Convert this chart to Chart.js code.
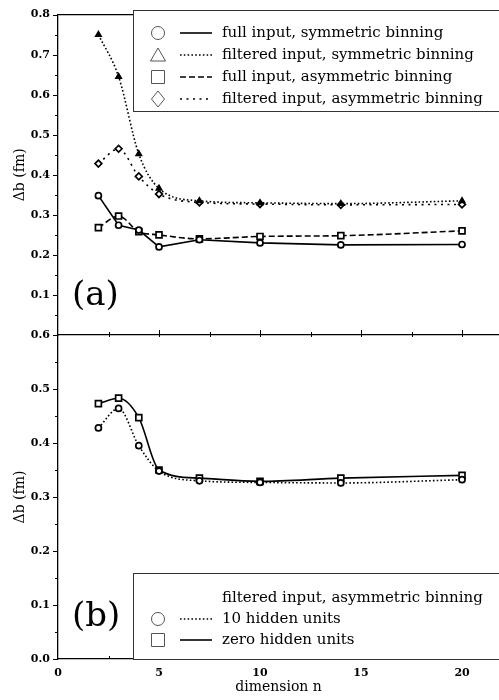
<!DOCTYPE html>
<html>
<head>
<meta charset="utf-8">
<script src="https://cdn.jsdelivr.net/npm/chart.js@4/dist/chart.umd.min.js"></script>
<style>
  html, body { margin: 0; padding: 0; background: #fff; }
  #quadro { position: relative; width: 499px; height: 700px; overflow: hidden; }
  #quadro canvas { position: absolute; left: 0; top: 0; }
</style>
</head>
<body>
<div id="quadro">
  <canvas id="graficoB" width="499" height="700"></canvas>
  <canvas id="graficoA" width="499" height="700"></canvas>
</div>
<script>
// ============================
// DADOS
// ============================
const dimensoes = [2, 3, 4, 5, 7, 10, 14, 20];

// painel (a)
const fullSym  = [0.348, 0.274, 0.262, 0.220, 0.238, 0.230, 0.225, 0.226];
const filtSym  = [0.750, 0.645, 0.452, 0.366, 0.335, 0.330, 0.328, 0.335];
const fullAsym = [0.268, 0.297, 0.258, 0.250, 0.240, 0.246, 0.248, 0.260];
const filtAsym = [0.428, 0.465, 0.396, 0.352, 0.331, 0.327, 0.325, 0.326];

// painel (b)
const hidden10   = [0.428, 0.464, 0.395, 0.348, 0.330, 0.327, 0.326, 0.332];
const hiddenZero = [0.473, 0.483, 0.447, 0.350, 0.335, 0.329, 0.335, 0.340];

const rotulosA = [
  'full input, symmetric binning',
  'filtered input, symmetric binning',
  'full input, asymmetric binning',
  'filtered input, asymmetric binning'
];
const cabecalhoB = 'filtered input, asymmetric binning';
const rotulosB = ['10 hidden units', 'zero hidden units'];

const xTicks = [0, 5, 10, 15, 20];

const SERIF = '"DejaVu Serif", serif';
const X_MAX = 21.83;
const ESQ = 58;

// ============================
// SÉRIES
// ============================
function serie(label, ys, marcador, dash, suave, cheio, raio) {
  return {
    label,
    data: dimensoes.map((x, i) => ({ x, y: ys[i] })),
    borderColor: '#000',
    borderWidth: 1.6,
    borderDash: dash,
    cubicInterpolationMode: suave ? 'monotone' : 'default',
    tension: suave ? 0.4 : 0,
    pointStyle: marcador,
    pointRadius: raio,
    pointBorderWidth: 1.7,
    pointBorderColor: '#000',
    pointBackgroundColor: cheio ? '#000' : '#fff'
  };
}

// ============================
// ESCALAS
// ============================
function escalas(yMax, comX, ocultarZero) {
  const fonteTick = { family: SERIF, size: 11, weight: 'bold' };
  return {
    x: {
      type: 'linear',
      min: 0,
      max: X_MAX,
      afterBuildTicks: s => { s.ticks = xTicks.map(v => ({ value: v })); },
      afterFit: s => { s.height = comX ? 41 : 0; },
      grid: { display: false, drawTicks: false },
      border: { display: true, color: '#000', width: 1.3 },
      ticks: { display: comX, padding: 8, maxRotation: 0, color: '#000', font: fonteTick },
      title: {
        display: comX, text: 'dimension n', color: '#000',
        font: { family: SERIF, size: 14 }, padding: { top: 0, bottom: 4.6 }
      }
    },
    y: {
      min: 0,
      max: yMax,
      afterFit: s => { s.width = ESQ; },
      grid: { display: false, drawTicks: false },
      border: { display: true, color: '#000', width: 1.3 },
      ticks: {
        stepSize: 0.1, padding: 8, color: '#000', font: fonteTick,
        callback: v => (ocultarZero && v < 0.001) ? '' : v.toFixed(1)
      },
      title: {
        display: true, text: 'Δb (fm)', color: '#000',
        font: { family: SERIF, size: 14 }, padding: { top: 11.6, bottom: 0 }
      }
    }
  };
}

// ============================
// MARCAS DOS EIXOS + MOLDURA
// ============================
const marcasEixos = {
  id: 'marcasEixos',
  afterDraw(chart, args, opts) {
    const { ctx, chartArea: a, scales: { x, y } } = chart;
    ctx.save();
    ctx.strokeStyle = '#000';
    ctx.lineWidth = 1;
    const n = Math.round(y.max / 0.05);
    for (let k = 0; k <= n; k++) {
      const py = Math.round(y.getPixelForValue(k * 0.05)) + 0.5;
      const len = k % 2 === 0 ? 5 : 3;
      ctx.beginPath();
      ctx.moveTo(a.left - len, py);
      ctx.lineTo(a.left, py);
      ctx.stroke();
    }
    for (let k = 1; k * 2.5 < x.max; k++) {
      const px = Math.round(x.getPixelForValue(k * 2.5)) + 0.5;
      const len = k % 2 === 0 ? 5 : 3;
      ctx.beginPath();
      ctx.moveTo(px, a.bottom - len);
      ctx.lineTo(px, a.bottom + (opts.abaixo ? 2 : 0));
      ctx.stroke();
    }
    if (opts.topo) {
      ctx.lineWidth = 1.3;
      ctx.beginPath();
      ctx.moveTo(a.left, a.top);
      ctx.lineTo(a.right, a.top);
      ctx.stroke();
    }
    ctx.restore();
  }
};

// ============================
// LEGENDA PRÓPRIA
// ============================
function desenharSimbolo(ctx, forma, x, y) {
  ctx.beginPath();
  if (forma === 'circle') {
    ctx.arc(x, y, 6.5, 0, Math.PI * 2);
  } else if (forma === 'triangle') {
    ctx.moveTo(x, y - 7);
    ctx.lineTo(x + 7.5, y + 6);
    ctx.lineTo(x - 7.5, y + 6);
    ctx.closePath();
  } else if (forma === 'rect') {
    ctx.rect(x - 6.5, y - 6.5, 13, 13);
  } else {
    ctx.moveTo(x, y - 8);
    ctx.lineTo(x + 6.5, y);
    ctx.lineTo(x, y + 8);
    ctx.lineTo(x - 6.5, y);
    ctx.closePath();
  }
  ctx.stroke();
}

const legendaPropria = {
  id: 'legendaPropria',
  afterDraw(chart, args, opts) {
    const { ctx } = chart;
    const [bx, by, bw, bh] = opts.caixa;
    ctx.save();
    ctx.fillStyle = '#fff';
    ctx.fillRect(bx, by, bw, bh);
    ctx.strokeStyle = '#333';
    ctx.lineWidth = 1;
    ctx.strokeRect(bx + 0.5, by + 0.5, bw, bh);

    ctx.font = '15px ' + SERIF;
    ctx.fillStyle = '#000';
    ctx.textBaseline = 'middle';
    ctx.textAlign = 'left';
    let yLinha = opts.y0;
    if (opts.cabecalho) {
      ctx.fillText(opts.cabecalho, 222, yLinha);
      yLinha += opts.passo;
    }
    chart.data.datasets.forEach(ds => {
      ctx.strokeStyle = '#555';
      ctx.lineWidth = 1;
      ctx.setLineDash([]);
      desenharSimbolo(ctx, ds.pointStyle, 158, yLinha);
      ctx.strokeStyle = '#000';
      ctx.lineWidth = 1.6;
      ctx.setLineDash(ds.borderDash || []);
      ctx.beginPath();
      ctx.moveTo(180, yLinha);
      ctx.lineTo(212, yLinha);
      ctx.stroke();
      ctx.setLineDash([]);
      ctx.fillText(ds.label, 222, yLinha);
      yLinha += opts.passo;
    });

    ctx.font = '34px ' + SERIF;
    ctx.fillText(opts.painel, 72, opts.painelY);
    ctx.restore();
  }
};

// ============================
// GRÁFICO (a)
// ============================
const chartA = new Chart(document.getElementById('graficoA'), {
  type: 'line',
  data: {
    datasets: [
      serie(rotulosA[0], fullSym, 'circle', [], false, false, 3),
      serie(rotulosA[1], filtSym, 'triangle', [1.6, 2.2], true, true, 3),
      serie(rotulosA[2], fullAsym, 'rect', [6, 3], true, false, 4.2),
      serie(rotulosA[3], filtAsym, 'rectRot', [2, 4.5], true, false, 3.4)
    ]
  },
  options: {
    responsive: false,
    animation: false,
    layout: { autoPadding: false, padding: { top: 10, bottom: 365, left: 0, right: 0 } },
    scales: escalas(0.8, false, true),
    plugins: {
      legend: { display: false },
      tooltip: { enabled: false },
      marcasEixos: { topo: true, abaixo: true },
      legendaPropria: { caixa: [133, 10, 380, 101], y0: 33, passo: 22, painel: '(a)', painelY: 296 }
    }
  },
  plugins: [marcasEixos, legendaPropria]
});

// ============================
// GRÁFICO (b)
// ============================
const chartB = new Chart(document.getElementById('graficoB'), {
  type: 'line',
  data: {
    datasets: [
      serie(rotulosB[0], hidden10, 'circle', [1.6, 2.2], true, false, 3),
      serie(rotulosB[1], hiddenZero, 'rect', [], true, false, 4.2)
    ]
  },
  options: {
    responsive: false,
    animation: false,
    layout: { autoPadding: false, padding: { top: 335, bottom: 0, left: 0, right: 0 } },
    scales: escalas(0.6, true, false),
    plugins: {
      legend: { display: false },
      tooltip: { enabled: false },
      marcasEixos: { topo: false, abaixo: false },
      legendaPropria: { caixa: [133, 573, 380, 86], cabecalho: cabecalhoB, y0: 598, passo: 21, painel: '(b)', painelY: 617 }
    }
  },
  plugins: [marcasEixos, legendaPropria]
});
</script>
</body>
</html>
